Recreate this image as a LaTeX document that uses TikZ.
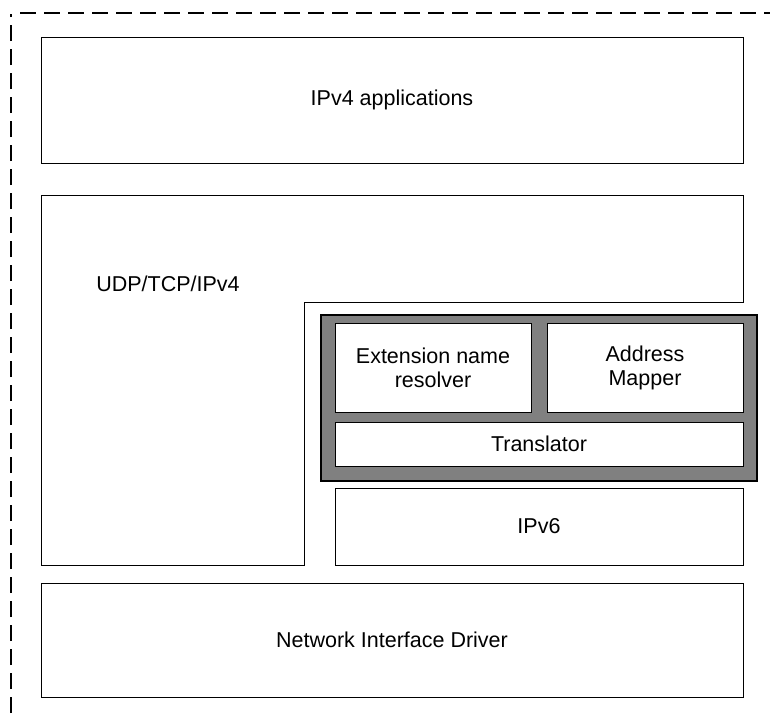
\documentclass[tikz,border=0pt]{standalone}
\usepackage{fontspec}
\setmainfont{Liberation Sans}
\tikzset{
  layer/.style={draw,thick,fill=white,inner sep=0pt,font=\fontsize{21.5}{24}\selectfont,align=center},
  frame/.style={draw,line width=1.2pt,fill=gray,inner sep=0pt}
}
\begin{document}
\begin{tikzpicture}[x=1pt,y=-1pt]
  \useasboundingbox (0,0) rectangle (770,713);
  \draw[line width=1.6pt,dash pattern=on 16pt off 8pt] (11,713)--(11,14);
  \draw[line width=1.6pt,dash pattern=on 16pt off 8pt] (20,13)--(770,13);
  \node[layer,minimum width=702,minimum height=126] (apps) at (392,100) {IPv4 applications};
  \draw[thick] (41,195)--(743,195)--(743,302)--(304,302)--(304,565)--(41,565)--cycle;
  \node[font=\fontsize{21.5}{24}\selectfont] (ipv4) at (168,284) {UDP/TCP/IPv4};
  \node[frame,minimum width=436,minimum height=166] (xlat) at (539,398) {};
  \node[layer,minimum width=196,minimum height=89] (resolver) at (433,367.5) {Extension name\\resolver};
  \node[layer,minimum width=196,minimum height=89] (mapper) at (645,367.5) {Address\\Mapper};
  \node[layer,minimum width=408,minimum height=44] (translator) at (539,444) {Translator};
  \node[layer,minimum width=408,minimum height=77] (ipv6) at (539,526.5) {IPv6};
  \node[layer,minimum width=702,minimum height=114] (nic) at (392,640) {Network Interface Driver};
\end{tikzpicture}
\end{document}
